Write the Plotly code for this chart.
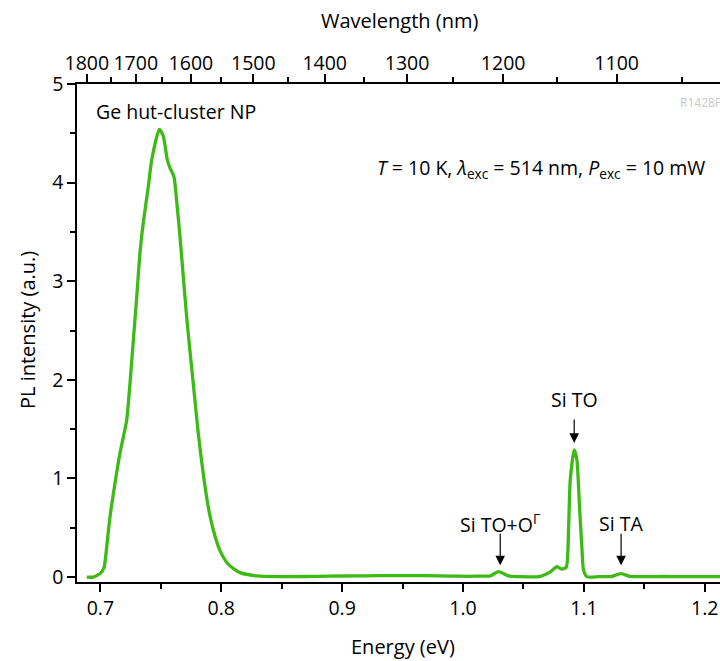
import plotly.graph_objects as go

# ---- data ----
energy_eV = [0.6888, 0.6942, 0.7003, 0.7031, 0.7053, 0.7080, 0.7121, 0.7163, 0.7218, 0.7245,
             0.7273, 0.7301, 0.7328, 0.7355, 0.7397, 0.7425, 0.7488, 0.7521, 0.7554, 0.7576,
             0.7609, 0.7631, 0.7659, 0.7686, 0.7714, 0.7741, 0.7769, 0.7810, 0.7851, 0.7893,
             0.7934, 0.7989, 0.8058, 0.8155, 0.8293, 0.8485, 0.8700, 0.8900, 0.9100, 0.9300,
             0.9500, 0.9700, 0.9900, 1.0050, 1.0160, 1.0226, 1.0294, 1.0377, 1.0470, 1.0640,
             1.0720, 1.0777, 1.0818, 1.0854, 1.0873, 1.0887, 1.0920, 1.0942, 1.0964, 1.0983,
             1.0997, 1.1025, 1.1120, 1.1231, 1.1308, 1.1382, 1.1500, 1.1650, 1.1800, 1.2000,
             1.2130]
pl_intensity = [0.00, 0.00, 0.04, 0.10, 0.31, 0.61, 0.95, 1.26, 1.59, 1.96,
                2.40, 2.84, 3.29, 3.59, 3.96, 4.23, 4.54, 4.47, 4.23, 4.15,
                4.06, 3.82, 3.45, 3.05, 2.64, 2.30, 1.96, 1.46, 1.05, 0.71,
                0.48, 0.27, 0.13, 0.045, 0.012, 0.005, 0.006, 0.010, 0.012, 0.014,
                0.015, 0.014, 0.010, 0.008, 0.010, 0.012, 0.055, 0.012, 0.004, 0.008,
                0.050, 0.105, 0.080, 0.10, 0.48, 0.98, 1.29, 1.19, 0.71, 0.31,
                0.07, 0.004, 0.004, 0.008, 0.035, 0.006, 0.004, 0.006, 0.004, 0.004,
                0.004]

energy_ticks = [0.7, 0.8, 0.9, 1.0, 1.1, 1.2]
energy_tick_labels = ["0.7", "0.8", "0.9", "1.0", "1.1", "1.2"]
wavelength_major_nm = [1800, 1700, 1600, 1500, 1400, 1300, 1200, 1100]
wavelength_minor_nm = [1750, 1650, 1550, 1450, 1350, 1250, 1150, 1050]
intensity_ticks = [0, 1, 2, 3, 4, 5]

peak_labels = ["Si TO", "Si TO+O<sup>Γ</sup>", "Si TA"]
peak_energy = [1.0920, 1.0308, 1.1308]
peak_arrow_tip = [1.36, 0.12, 0.12]

HC = 1239.84
x_range = [0.6807, 1.2126]
y_range = [-0.05, 5.0]
FONT = "Open Sans"
GREEN = "#3dba16"
TICK_SIZE = 19.5
TEXT_SIZE = 19.5

fig = go.Figure()
fig.add_trace(go.Scatter(x=energy_eV, y=pl_intensity, mode="lines",
                         line=dict(color=GREEN, width=3.3, shape="spline", smoothing=0.6),
                         showlegend=False, hoverinfo="skip"))
# invisible trace to activate top axis
fig.add_trace(go.Scatter(x=x_range, y=[None, None], xaxis="x2", showlegend=False,
                         hoverinfo="skip"))

axis_common = dict(showline=True, linecolor="black", linewidth=1.5, ticks="outside",
                   tickcolor="black", tickwidth=1.5, ticklen=8, showgrid=False,
                   zeroline=False, tickfont=dict(family=FONT, size=TICK_SIZE, color="black"))

fig.update_layout(
    width=720, height=661,
    margin=dict(l=77, r=0, t=84, b=79),
    paper_bgcolor="white", plot_bgcolor="white",
    font=dict(family=FONT, color="black"),
    xaxis=dict(range=x_range, tickmode="array", tickvals=energy_ticks,
               ticktext=energy_tick_labels,
               minor=dict(tickmode="array",
                          tickvals=[0.75, 0.85, 0.95, 1.05, 1.15],
                          ticks="outside", ticklen=5, tickwidth=1.5, tickcolor="black"),
               **axis_common),
    xaxis2=dict(range=x_range, overlaying="x", side="top", tickmode="array",
                tickvals=[HC / w for w in wavelength_major_nm],
                ticktext=[str(w) for w in wavelength_major_nm],
                ticklabelstandoff=-4,
                minor=dict(tickmode="array",
                           tickvals=[HC / w for w in wavelength_minor_nm],
                           ticks="outside", ticklen=5, tickwidth=1.5, tickcolor="black"),
                **axis_common),
    yaxis=dict(range=y_range, tickmode="array", tickvals=intensity_ticks,
               minor=dict(tickmode="array", tickvals=[0.5, 1.5, 2.5, 3.5, 4.5],
                          ticks="outside", ticklen=5, tickwidth=1.5, tickcolor="black"),
               **axis_common),
)

ann = []
# axis titles
ann.append(dict(text="Wavelength (nm)", xref="paper", yref="paper", x=0.502, y=1.1285,
                showarrow=False, font=dict(family=FONT, size=20), xanchor="center", yanchor="middle"))
ann.append(dict(text="Energy (eV)", xref="paper", yref="paper", x=0.507, y=(582 - 646) / 498,
                showarrow=False, font=dict(family=FONT, size=20), xanchor="center", yanchor="middle"))
ann.append(dict(text="PL intensity (a.u.)", xref="paper", yref="paper", x=-0.0778, y=0.506,
                textangle=-90, showarrow=False, font=dict(family=FONT, size=20),
                xanchor="center", yanchor="middle"))
# in-plot labels
ann.append(dict(text="Ge hut-cluster NP", xref="paper", yref="paper",
                x=(94 - 77) / 643, y=(582 - 111) / 498, showarrow=False,
                font=dict(family=FONT, size=TEXT_SIZE), xanchor="left", yanchor="middle"))
ann.append(dict(text="<i>T</i> = 10 K, <i>λ</i><sub>exc</sub> = 514 nm, <i>P</i><sub>exc</sub> = 10 mW",
                xref="paper", yref="paper", x=(707 - 77) / 643, y=(582 - 168) / 498,
                showarrow=False, font=dict(family=FONT, size=TEXT_SIZE), xanchor="right", yanchor="middle"))
ann.append(dict(text="R1428F", xref="paper", yref="paper", x=(678 - 77) / 643,
                y=(582 - 102) / 498, showarrow=False,
                font=dict(family=FONT, size=12, color="#c8c8c8"), xanchor="left", yanchor="middle"))
# peak labels & arrows
label_y_px = [399, 523, 523]
tail_len = [25, 33, 33]
for lab, e, tip, ly, tl in zip(peak_labels, peak_energy, peak_arrow_tip, label_y_px, tail_len):
    ann.append(dict(text=lab, x=e, xref="x", yref="paper", y=(582 - ly) / 498,
                    showarrow=False, font=dict(family=FONT, size=TEXT_SIZE),
                    xanchor="center", yanchor="middle"))
    ann.append(dict(text="", x=e, y=tip, xref="x", yref="y", ax=0, ay=-tl,
                    showarrow=True, arrowhead=2, arrowsize=1.6, arrowwidth=1.2,
                    arrowcolor="black", standoff=0))
fig.update_layout(annotations=ann)

fig.write_html("out.html")
